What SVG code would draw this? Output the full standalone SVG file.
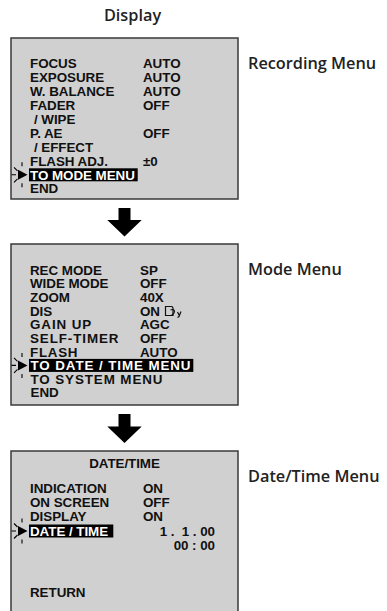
<svg xmlns="http://www.w3.org/2000/svg" xmlns:xlink="http://www.w3.org/1999/xlink" width="387" height="611" viewBox="0 0 387 611">
<style>
.box{fill:#d0d0d0;stroke:#3a3a3a;stroke-width:1.5}
.t{font-family:"Liberation Sans",Arial,sans-serif;font-weight:bold;font-size:13.4px;letter-spacing:-0.05px;fill:#111}
.w{fill:#fff}
.hl{fill:#000}
.lab{font-family:"Open Sans","Noto Sans",sans-serif;font-weight:600;font-size:16.3px;fill:#222}
.arr{fill:#000}
.sp{stroke:#000;stroke-width:1.1;fill:none}
</style>
<defs>
<g id="cur">
<path d="M18 -5 L27.5 0 L18 5 Z" fill="#000"/>
<path class="sp" d="M22 -12.5 V-8.5 M22 8.5 V12.5 M11.5 0 H16 M14 -7.5 L17.5 -4 M14 7.5 L17.5 4"/>
</g>
</defs>
<text class="lab" x="132.5" y="21" text-anchor="middle">Display</text>

<g id="recording-menu">
<rect class="box" x="11" y="38" width="227" height="161"/>
<text class="t" x="30" y="68.3">FOCUS</text><text class="t" x="143" y="68.3">AUTO</text>
<text class="t" x="30" y="82.2">EXPOSURE</text><text class="t" x="143" y="82.2">AUTO</text>
<text class="t" x="30" y="96.1">W. BALANCE</text><text class="t" x="143" y="96.1">AUTO</text>
<text class="t" x="30" y="110">FADER</text><text class="t" x="143" y="110">OFF</text>
<text class="t" x="34" y="123.9">/ WIPE</text>
<text class="t" x="30" y="137.8">P. AE</text><text class="t" x="143" y="137.8">OFF</text>
<text class="t" x="34" y="151.7">/ EFFECT</text>
<text class="t" x="30" y="165.6">FLASH ADJ.</text><text class="t" x="143" y="165.6">±0</text>
<rect class="hl" x="29" y="168.3" width="108.7" height="13"/>
<text class="t w" x="30" y="179.6">TO MODE MENU</text>
<use xlink:href="#cur" href="#cur" x="0" y="174.8"/>
<text class="t" x="30" y="193.4">END</text>
</g>
<text class="lab" x="248" y="68.5">Recording Menu</text>

<g id="mode-menu">
<rect class="box" x="11" y="244" width="227" height="161"/>
<text class="t" x="30" y="274.7">REC MODE</text><text class="t" x="140" y="274.7">SP</text>
<text class="t" x="30" y="288.3">WIDE MODE</text><text class="t" x="140" y="288.3">OFF</text>
<text class="t" x="30" y="302">ZOOM</text><text class="t" x="140" y="302">40X</text>
<text class="t" x="30" y="315.6">DIS</text><text class="t" x="140" y="315.6">ON</text>
<g fill="none" stroke="#111" stroke-width="1.2">
<path d="M165.5 306.5 H172 L173 308 V315.5 H165.5 Z"/>
<path d="M170.5 310 C172.5 309 174.5 309.5 174.5 311.5 C174.5 313.5 172.5 314.5 171.5 315.5"/>
<path d="M177.5 312 L179 315 M181 311.5 L179 316.5 L177.5 317.5"/>
</g>
<text class="t" x="30" y="329.2" style="letter-spacing:0.9px">GAIN UP</text><text class="t" x="140" y="329.2">AGC</text>
<text class="t" x="30" y="342.9" style="letter-spacing:0.9px">SELF-TIMER</text><text class="t" x="140" y="342.9">OFF</text>
<text class="t" x="30" y="356.5" style="letter-spacing:0.7px">FLASH</text><text class="t" x="140" y="356.5">AUTO</text>
<rect class="hl" x="29" y="358.9" width="164.3" height="13"/>
<text class="t w" x="30.5" y="370.2" style="letter-spacing:0.9px">TO DATE / TIME MENU</text>
<use xlink:href="#cur" href="#cur" x="0" y="365.4"/>
<text class="t" x="30.5" y="383.8" style="letter-spacing:0.9px">TO SYSTEM MENU</text>
<text class="t" x="30.5" y="397.4">END</text>
</g>
<text class="lab" x="248" y="275">Mode Menu</text>

<g id="datetime-menu">
<rect class="box" x="11" y="451" width="227" height="162"/>
<text class="t" x="124.5" y="468" text-anchor="middle">DATE/TIME</text>
<text class="t" x="30" y="493.2">INDICATION</text><text class="t" x="143" y="493.2">ON</text>
<text class="t" x="30" y="507.1">ON SCREEN</text><text class="t" x="143" y="507.1">OFF</text>
<text class="t" x="30" y="521">DISPLAY</text><text class="t" x="143" y="521">ON</text>
<rect class="hl" x="29" y="524.5" width="84.3" height="13"/>
<text class="t w" x="30" y="535.8">DATE / TIME</text>
<use xlink:href="#cur" href="#cur" x="0" y="531"/>
<text class="t" x="215" y="536.3" text-anchor="end" xml:space="preserve">1 .  1 . 00</text>
<text class="t" x="215" y="550.3" text-anchor="end">00 : 00</text>
<text class="t" x="30" y="597.3">RETURN</text>
</g>
<text class="lab" x="248" y="482">Date/Time Menu</text>

<g id="connectors">
<path class="arr" d="M118.5 208 H130.5 V220 H141.7 L124.5 236.5 L107.3 220 H118.5 Z"/>
<path class="arr" d="M118.5 414 H130.5 V426.5 H141.7 L124.5 443 L107.3 426.5 H118.5 Z"/>
</g>
</svg>
